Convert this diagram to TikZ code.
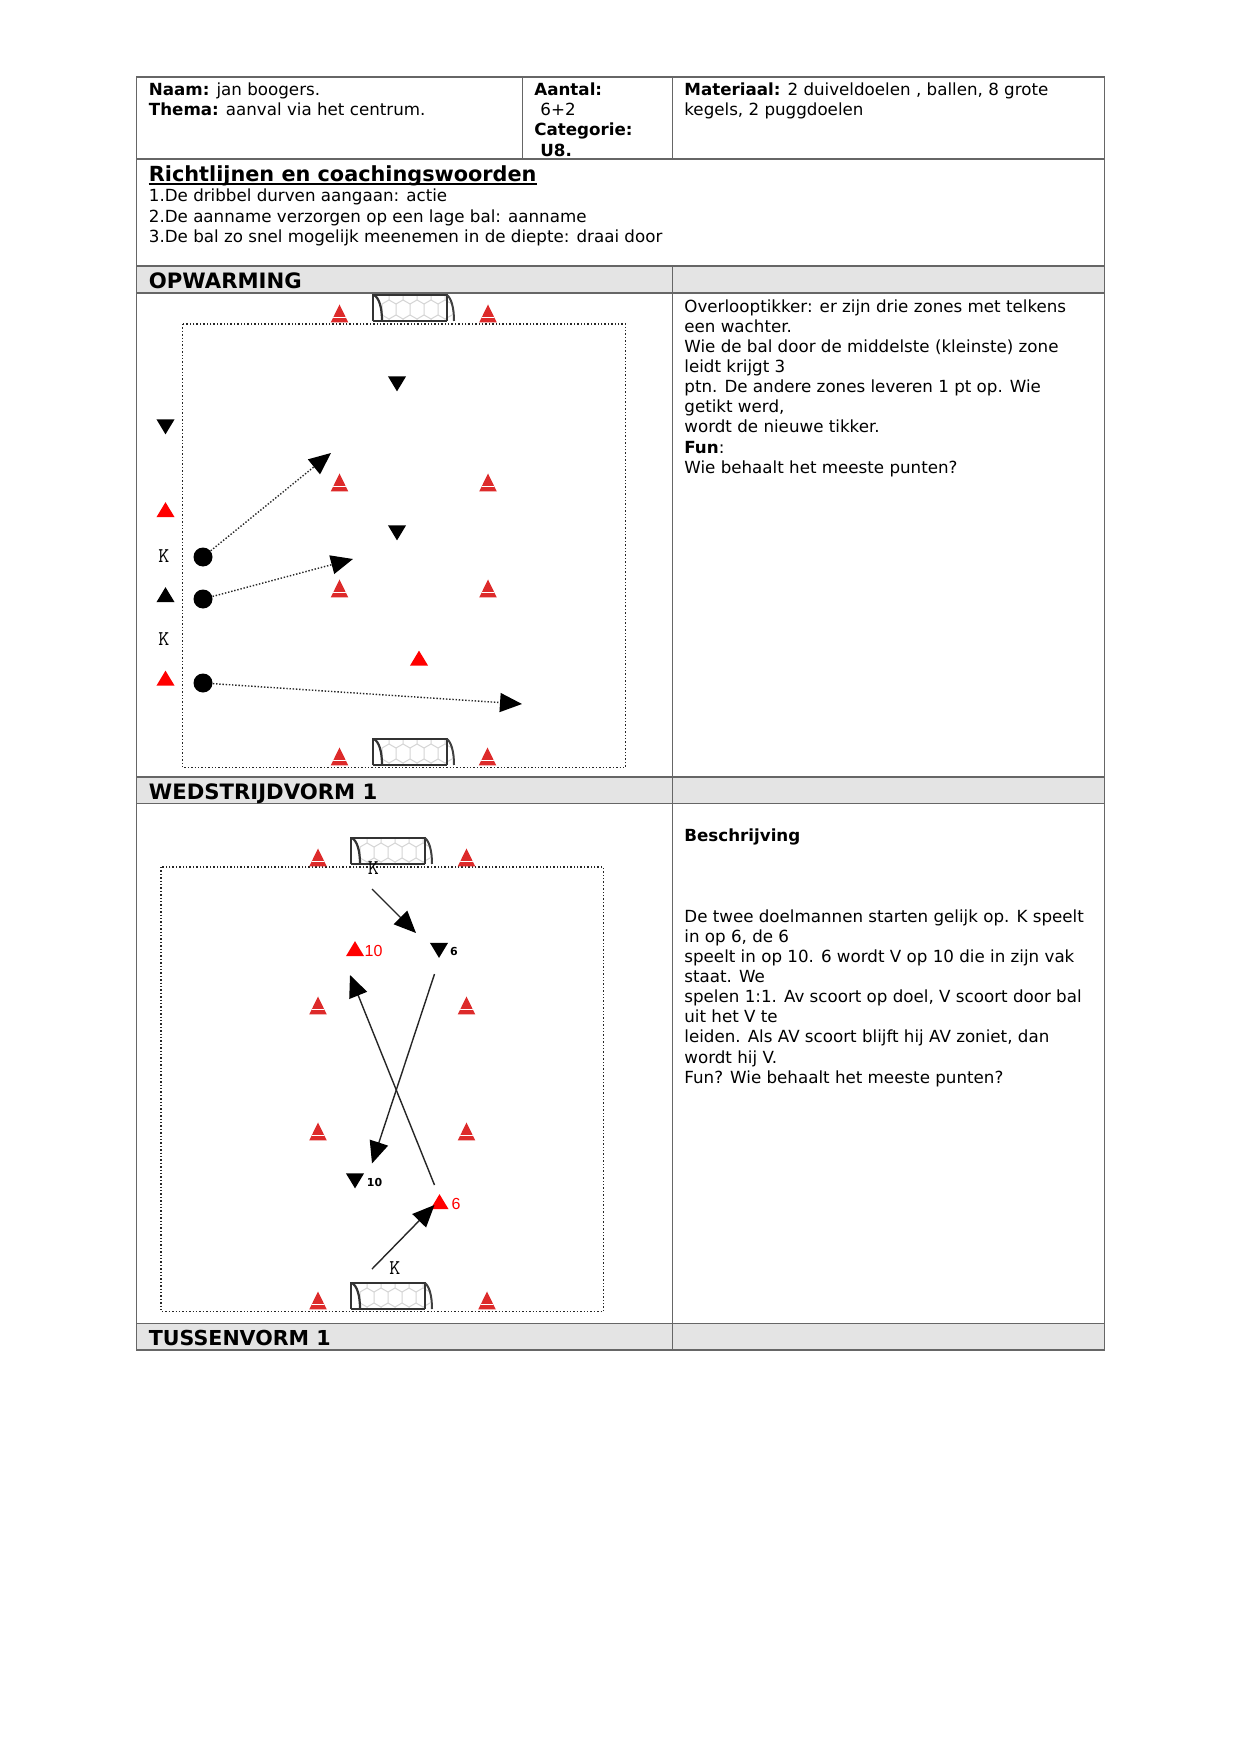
\documentclass[tikz,border=0pt]{standalone}
\usepackage{fontspec}
\setmainfont{DejaVu Sans}
\newfontfamily\pitchfont{Liberation Sans}
\usetikzlibrary{arrows.meta,shapes.geometric}
\definecolor{gridline}{HTML}{666666}
\definecolor{headfill}{HTML}{E4E4E4}
\definecolor{conered}{HTML}{DD2A2A}
\definecolor{netgray}{HTML}{D4D4D4}
\tikzset{
      headbox/.style={fill=headfill,draw=gridline,line width=0.9pt},
      gridrule/.style={draw=gridline,line width=0.9pt},
      celltext/.style={anchor=north west,align=left,inner sep=0pt,font=\fontsize{8.35}{10.07}\selectfont},
      headtext/.style={anchor=base west,inner sep=0pt,font=\fontsize{10.6}{10}\selectfont\bfseries},
      fieldbox/.style={draw=black!85,densely dotted,line width=0.7pt},
      conemark/.style={isosceles triangle,isosceles triangle apex angle=52,shape border rotate=90,
        minimum height=9pt,minimum width=8.5pt,inner sep=0pt,fill=conered,
        path picture={\draw[white,line width=0.55pt] ([yshift=2.3pt]path picture bounding box.south west) -- ([yshift=2.3pt]path picture bounding box.south east);}},
      reddelta/.style={isosceles triangle,isosceles triangle apex angle=62,shape border rotate=90,
        minimum height=7.5pt,minimum width=8pt,inner sep=0pt,fill=red},
      blackdelta/.style={reddelta,fill=black},
      blacknabla/.style={isosceles triangle,isosceles triangle apex angle=62,shape border rotate=-90,
        minimum height=7.5pt,minimum width=8pt,inner sep=0pt,fill=black},
      ballmark/.style={circle,fill=black,minimum size=9.5pt,inner sep=0pt},
      keeperlabel/.style={inner sep=0pt,font=\ttfamily\fontsize{10.5}{10}\selectfont},
      redlabel/.style={inner sep=0pt,text=red,font=\pitchfont\fontsize{8}{10}\selectfont},
      blacklabel/.style={inner sep=0pt,font=\fontsize{5.5}{10}\selectfont\bfseries},
      passline/.style={-{Triangle[length=11pt,width=9.5pt,color=black]},draw=black!85,line width=0.7pt},
      dribbleline/.style={passline,dash pattern=on 0.7pt off 0.9pt,line width=0.7pt}
    }
\newcommand{\goalpic}[2]{%
    \begin{scope}[shift={(#1,#2)}]
      \foreach \netx in {9,23,37,51,65}{
        \draw[netgray,line width=0.5pt] (\netx,9) -- (\netx+7,5) -- (\netx+14,9) (\netx+7,5) -- (\netx+7,0);
        \draw[netgray,line width=0.5pt] (\netx,9) -- (\netx,20) -- (\netx+7,24) -- (\netx+14,20) (\netx+7,24) -- (\netx+7,26);
      }
      \draw[black!80,line width=1.1pt] (0,26) -- (0,0) -- (74,0) -- (74,26);
      \draw[black!80,line width=1.1pt] (0,26) -- (74,26);
      \draw[black!80,line width=1.1pt] (1,0) .. controls (6,3) and (9,12) .. (9,26);
      \draw[black!75,line width=1pt] (74,0) .. controls (78,3) and (81,12) .. (81,26);
    \end{scope}}

\begin{document}
\begin{tikzpicture}[x=0.5pt,y=-0.5pt]
    \useasboundingbox (0,0) rectangle (1241,1754);
    \fill[white] (0,0) rectangle (1241,1754);
    % gray header rows
    \path[headbox] (136.5,266) rectangle (672.5,293);
    \path[headbox] (672.5,266) rectangle (1104.5,293);
    \path[headbox] (136.5,777) rectangle (672.5,803.5);
    \path[headbox] (672.5,777) rectangle (1104.5,803.5);
    \path[headbox] (136.5,1323.5) rectangle (672.5,1350);
    \path[headbox] (672.5,1323.5) rectangle (1104.5,1350);
    % table rules
    \draw[gridrule] (136.5,77) rectangle (1104.5,1350);
    \draw[gridrule] (136.5,159) -- (1104.5,159);
    \draw[gridrule] (522.5,77) -- (522.5,159);
    \draw[gridrule] (672.5,77) -- (672.5,159);
    \draw[gridrule] (672.5,266) -- (672.5,1350);
    % cell texts
    \node[celltext] (naam) at (148.5,82.5) {\textbf{Naam:} jan boogers.\\\textbf{Thema:} aanval via het centrum.};
    \node[celltext] (aantal) at (534,82.5) {\textbf{Aantal:}\\\hspace*{3pt}6+2\\\textbf{Categorie:}\\\hspace*{3pt}\textbf{U8.}};
    \node[celltext] (materiaal) at (684,82.5) {\textbf{Materiaal:} 2 duiveldoelen , ballen, 8 grote\\kegels, 2 puggdoelen};
    \node[headtext,font=\fontsize{10.4}{10}\selectfont\bfseries] (richtlijnen) at (148.5,181.5) {Richtlijnen en coachingswoorden};
    \draw[line width=0.8pt] ([yshift=-1.4pt]richtlijnen.base west) -- ([yshift=-1.4pt]richtlijnen.base east);
    \node[celltext,font=\fontsize{8.35}{10.35}\selectfont] (punten) at (148.5,188.5) {1.De dribbel durven aangaan: actie\\2.De aanname verzorgen op een lage bal: aanname\\3.De bal zo snel mogelijk meenemen in de diepte: draai door};
    \node[headtext] (opwarming) at (148.5,289) {OPWARMING};
    \node[headtext] (wedstrijd) at (148.5,799) {WEDSTRIJDVORM 1};
    \node[headtext,font=\fontsize{10.3}{10}\selectfont\bfseries] (tussen) at (148.5,1345.5) {TUSSENVORM 1};
    \node[celltext] (overloop) at (684,299) {Overlooptikker: er zijn drie zones met telkens\\een wachter.\\Wie de bal door de middelste (kleinste) zone\\leidt krijgt 3\\ptn. De andere zones leveren 1 pt op. Wie\\getikt werd,\\wordt de nieuwe tikker.\\\textbf{Fun}:\\Wie behaalt het meeste punten?};
    \node[celltext] (beschrijving) at (684,828) {\textbf{Beschrijving}};
    \node[celltext] (uitleg) at (684,909) {De twee doelmannen starten gelijk op. K speelt\\in op 6, de 6\\speelt in op 10. 6 wordt V op 10 die in zijn vak\\staat. We\\spelen 1:1. Av scoort op doel, V scoort door bal\\uit het V te\\leiden. Als AV scoort blijft hij AV zoniet, dan\\wordt hij V.\\Fun? Wie behaalt het meeste punten?};
    % opwarming field
    \draw[fieldbox] (182.5,324) rectangle (625.5,767.5);
    \goalpic{373}{295}
    \goalpic{373}{739}
    \node[conemark] (c1) at (339.5,317) {};
    \node[conemark] (c2) at (488,317) {};
    \node[conemark] (c3) at (339.5,486) {};
    \node[conemark] (c4) at (488,486) {};
    \node[conemark] (c5) at (339.5,592) {};
    \node[conemark] (c6) at (488,592) {};
    \node[conemark] (c7) at (339.5,760) {};
    \node[conemark] (c8) at (487.5,760) {};
    \node[blacknabla] (n1) at (397,381.5) {};
    \node[blacknabla] (n2) at (397,530.5) {};
    \node[blacknabla] (n3) at (165.5,424.5) {};
    \node[reddelta] (r1) at (165.5,512) {};
    \node[reddelta] (r2) at (419,660.5) {};
    \node[reddelta] (r3) at (165.5,680.5) {};
    \node[blackdelta] (b1) at (165.5,597) {};
    \node[keeperlabel] (k1) at (164,556) {K};
    \node[keeperlabel] (k2) at (164,639) {K};
    \node[ballmark] (ball1) at (203,557) {};
    \node[ballmark] (ball2) at (203,599) {};
    \node[ballmark] (ball3) at (203,683) {};
    \coordinate (tip1) at (331,453);
    \coordinate (tip2) at (353,559);
    \coordinate (tip3) at (522,704);
    \draw[dribbleline] (ball1) -- (tip1);
    \draw[dribbleline] (ball2) -- (tip2);
    \draw[dribbleline] (ball3) -- (tip3);
    % wedstrijdvorm field
    \draw[fieldbox] (161,867) rectangle (603.5,1311.5);
    \goalpic{351}{838}
    \goalpic{351}{1283}
    \node[conemark] (d1) at (318,861) {};
    \node[conemark] (d2) at (466.5,861) {};
    \node[conemark] (d3) at (318,1009) {};
    \node[conemark] (d4) at (466.5,1009) {};
    \node[conemark] (d5) at (318,1135) {};
    \node[conemark] (d6) at (466.5,1135) {};
    \node[conemark] (d7) at (318,1304) {};
    \node[conemark] (d8) at (487,1304) {};
    \node[reddelta] (ten) at (355,951) {};
    \node[redlabel] (tenlabel) at (373.5,950.5) {10};
    \node[blacknabla] (six) at (439,948) {};
    \node[blacklabel] (sixlabel) at (454,951) {6};
    \node[blacknabla] (tenb) at (355,1178.5) {};
    \node[blacklabel] (tenblabel) at (374.5,1182) {10};
    \node[reddelta] (sixr) at (439.5,1204) {};
    \node[redlabel] (sixrlabel) at (456,1203.5) {6};
    \node[keeperlabel] (k3) at (373.5,868) {K};
    \node[keeperlabel] (k4) at (395,1268) {K};
    \coordinate (s1) at (372,889);
    \coordinate (e1) at (416,933);
    \coordinate (s2) at (434.5,974);
    \coordinate (e2) at (372,1163.5);
    \coordinate (s3) at (434.5,1185);
    \coordinate (e3) at (350,975);
    \coordinate (s4) at (372,1269);
    \coordinate (e4) at (434.5,1205);
    \draw[passline] (s1) -- (e1);
    \draw[passline] (s2) -- (e2);
    \draw[passline] (s3) -- (e3);
    \draw[passline] (s4) -- (e4);
    \end{tikzpicture}
\end{document}
